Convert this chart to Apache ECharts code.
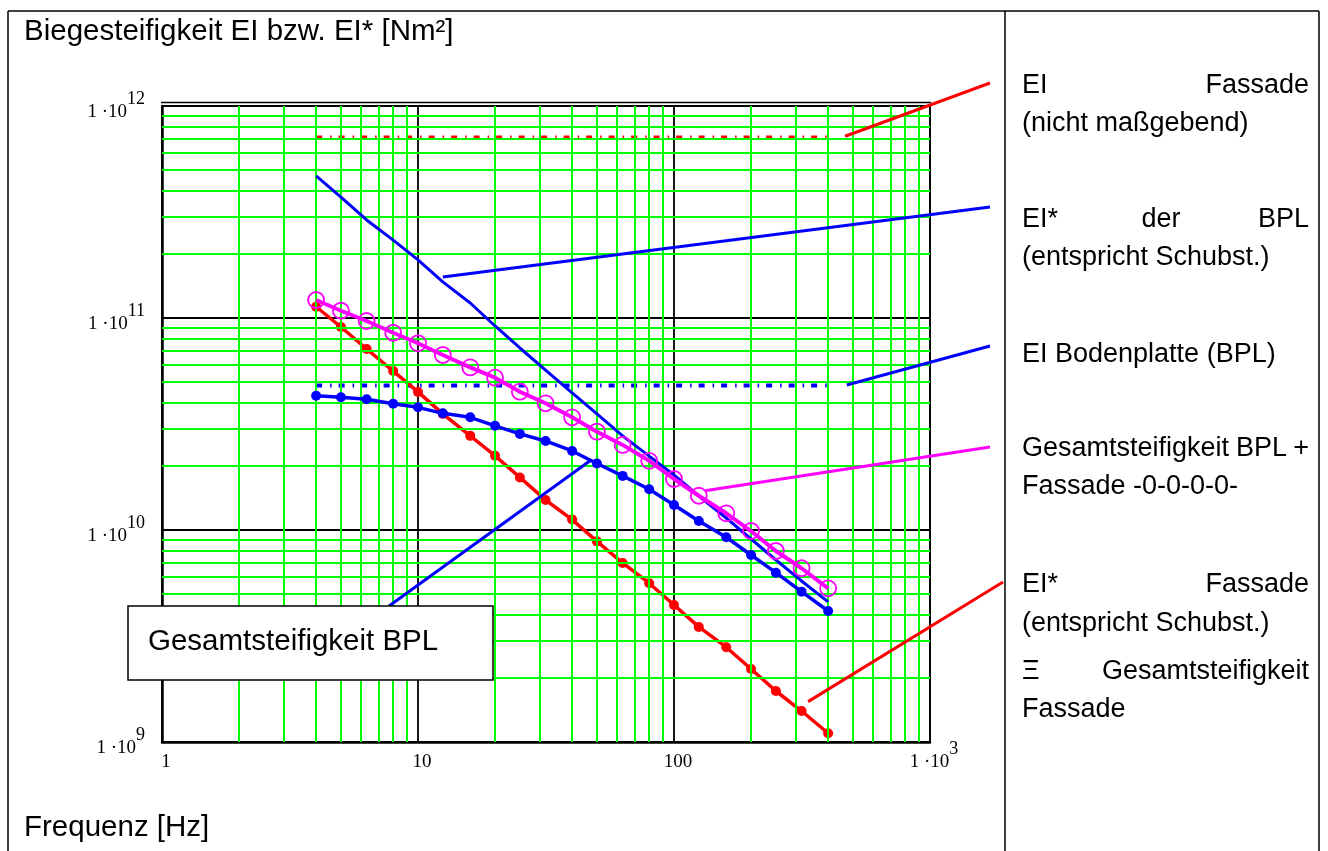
<!DOCTYPE html>
<html>
<head>
<meta charset="utf-8">
<script src="https://cdn.jsdelivr.net/npm/echarts@6/dist/echarts.min.js"></script>
<style>
  html, body { margin: 0; padding: 0; background: #fff; }
  #chart { width: 1328px; height: 851px; }
</style>
</head>
<body>
<div id="chart"></div>
<script>
// Third-octave band centre frequencies [Hz]
const FREQ = [4, 5, 6.3, 8, 10, 12.5, 16, 20, 25, 31.5, 40, 50, 63, 80, 100, 125, 160, 200, 250, 315, 400];

// EI* Fassade (entspricht Schubsteifigkeit) = Gesamtsteifigkeit Fassade [Nm²]
const EI_STAR_FASSADE = [1.13e11, 9.07e10, 7.14e10, 5.62e10, 4.48e10, 3.53e10, 2.78e10, 2.24e10, 1.77e10, 1.385e10,
  1.12e10, 8.84e9, 6.99e9, 5.61e9, 4.43e9, 3.49e9, 2.80e9, 2.21e9, 1.74e9, 1.40e9, 1.10e9];

// Gesamtsteifigkeit Bodenplatte [Nm²]
const GESAMT_BPL = [4.30e10, 4.23e10, 4.14e10, 3.94e10, 3.79e10, 3.55e10, 3.40e10, 3.10e10, 2.84e10, 2.63e10,
  2.36e10, 2.06e10, 1.80e10, 1.556e10, 1.312e10, 1.103e10, 9.24e9, 7.62e9, 6.29e9, 5.12e9, 4.15e9];

// Gesamtsteifigkeit BPL + Fassade [Nm²]
const GESAMT_BPL_FASSADE = [1.216e11, 1.082e11, 9.68e10, 8.52e10, 7.60e10, 6.69e10, 5.85e10, 5.23e10, 4.49e10, 3.96e10,
  3.40e10, 2.91e10, 2.52e10, 2.12e10, 1.74e10, 1.451e10, 1.199e10, 9.89e9, 7.96e9, 6.60e9, 5.31e9];

// EI* der Bodenplatte (entspricht Schubsteifigkeit) [Nm²]
const EI_STAR_BPL = [4.68e11, 3.72e11, 2.90e11, 2.33e11, 1.88e11, 1.48e11, 1.177e11, 9.17e10, 7.22e10, 5.68e10,
  4.43e10, 3.53e10, 2.78e10, 2.23e10, 1.82e10, 1.447e10, 1.139e10, 9.07e9, 7.22e9, 5.75e9, 4.58e9];

// Frequency-independent bending stiffnesses [Nm²]
const EI_FASSADE = 7.1e11;
const EI_BPL = 4.8e10;
const CONST_RANGE = [4, 400];

// Axis ranges and decade ticks
const X_RANGE = [1, 1000];
const Y_RANGE = [1e9, 1e12];
const X_DECADES = [1, 10, 100];
const Y_DECADES = [1e9, 1e10, 1e11];
const MANTISSAS = [2, 3, 4, 5, 6, 7, 8, 9];

// Leader-line anchors on the chart side, in data units [f, EI]
const LEADER_ANCHORS = {
  fassadeEI:   [466, 7.2e11],
  bplStar:     [12.5, 1.56e11],
  bplEI:       [473, 4.83e10],
  gesamt:      [132, 1.53e10],
  fassadeStar: [334, 1.55e9],
  gesamtBPL:   [47, 2.12e10]
};

const pair = (xs, ys) => xs.map((x, i) => [x, ys[i]]);
const minorX = X_DECADES.flatMap(d => MANTISSAS.map(m => m * d));
const minorY = Y_DECADES.flatMap(d => MANTISSAS.map(m => m * d));

const RED = '#ff0000', BLUE = '#0000ff', MAGENTA = '#ff00ff', GREEN = '#00ff00';
const SERIF = '"Liberation Serif", "DejaVu Serif", serif';
const SANS = '"Liberation Sans", Arial, sans-serif';

// "1 ·10" with a raised exponent: the tall base token sets the line box,
// the exponent hangs from its top
const supRich = {
  b: { fontFamily: SERIF, fontSize: 19, color: '#000', lineHeight: 32, verticalAlign: 'bottom' },
  s: { fontFamily: SERIF, fontSize: 18, color: '#000', lineHeight: 8, verticalAlign: 'top' }
};
const powLabel = e => '{b|1 ·10}{s|' + e + '}';

const GRID = { left: 162, top: 106, width: 768, height: 636 };

const chart = echarts.init(document.getElementById('chart'), null, { renderer: 'canvas' });

chart.setOption({
  animation: false,
  backgroundColor: '#fff',
  grid: Object.assign({ show: true, borderColor: '#000', borderWidth: 1.5, backgroundColor: 'transparent', containLabel: false }, GRID),
  xAxis: {
    type: 'log', logBase: 10, min: X_RANGE[0], max: X_RANGE[1],
    axisLine: { show: true, onZero: false, lineStyle: { color: '#000', width: 2.5 } },
    axisTick: { show: false },
    splitLine: { show: true, lineStyle: { color: '#000', width: 1.8 } },
    axisLabel: {
      margin: -2,
      padding: [0, 0, 0, 8],
      formatter: v => {
        const e = Math.round(Math.log10(v));
        return e >= 3 ? powLabel(e) : '{b|' + Math.round(v) + '}';
      },
      rich: supRich
    }
  },
  yAxis: {
    type: 'log', logBase: 10, min: Y_RANGE[0], max: Y_RANGE[1],
    axisLine: { show: true, onZero: false, lineStyle: { color: '#000', width: 2.5 } },
    axisTick: { show: false },
    splitLine: { show: true, lineStyle: { color: '#000', width: 1.8 } },
    axisLabel: {
      margin: 17,
      formatter: v => powLabel(Math.round(Math.log10(v))),
      rich: supRich
    }
  },
  series: [
    {
      // green minor grid at 2..9 of every decade
      type: 'line', data: [], silent: true, z: 1,
      markLine: {
        silent: true, symbol: ['none', 'none'], label: { show: false },
        lineStyle: { color: GREEN, width: 2, type: 'solid' },
        emphasis: { disabled: true },
        data: minorX.map(v => ({ xAxis: v })).concat(minorY.map(v => ({ yAxis: v })))
      }
    },
    {
      name: 'EI Fassade', type: 'line', z: 3, showSymbol: false,
      data: CONST_RANGE.map(f => [f, EI_FASSADE]),
      lineStyle: { color: RED, width: 4, type: [6, 8, 1.5, 7] }
    },
    {
      name: 'EI Bodenplatte', type: 'line', z: 3, showSymbol: false,
      data: CONST_RANGE.map(f => [f, EI_BPL]),
      lineStyle: { color: BLUE, width: 4, type: [6, 8, 1.5, 7] }
    },
    {
      name: 'EI* Fassade', type: 'line', z: 4,
      data: pair(FREQ, EI_STAR_FASSADE),
      symbol: 'circle', symbolSize: 10,
      itemStyle: { color: RED },
      lineStyle: { color: RED, width: 3.5 }
    },
    {
      name: 'EI* der BPL', type: 'line', z: 5, showSymbol: false,
      data: pair(FREQ, EI_STAR_BPL),
      lineStyle: { color: BLUE, width: 3 }
    },
    {
      name: 'Gesamtsteifigkeit BPL', type: 'line', z: 5,
      data: pair(FREQ, GESAMT_BPL),
      symbol: 'circle', symbolSize: 10,
      itemStyle: { color: BLUE },
      lineStyle: { color: BLUE, width: 3.5 }
    },
    {
      name: 'Gesamtsteifigkeit BPL + Fassade', type: 'line', z: 6,
      data: pair(FREQ, GESAMT_BPL_FASSADE),
      symbol: 'circle', symbolSize: 16,
      itemStyle: { color: 'rgba(0,0,0,0)', borderColor: MAGENTA, borderWidth: 1.8 },
      lineStyle: { color: MAGENTA, width: 4 }
    }
  ]
});

// Frame, legend panel texts, callout box and leader lines
const px = key => chart.convertToPixel({ gridIndex: 0 }, LEADER_ANCHORS[key]);
const leader = (key, x2, y2, color) => {
  const p = px(key);
  return { type: 'line', z: 20, silent: true,
    shape: { x1: p[0], y1: p[1], x2: x2, y2: y2 },
    style: { stroke: color, lineWidth: 3 } };
};
const hline = (x1, x2, y) => ({ type: 'line', z: 20, silent: true, shape: { x1, y1: y, x2, y2: y }, style: { stroke: '#000', lineWidth: 1.5 } });
const vline = (x, y1, y2) => ({ type: 'line', z: 20, silent: true, shape: { x1: x, y1, x2: x, y2 }, style: { stroke: '#000', lineWidth: 1.5 } });
const txt = (s, x, y, align, size) => ({
  type: 'text', z: 30, silent: true, x, y,
  style: { text: s, fill: '#000', font: (size || 27) + 'px ' + SANS, textAlign: align || 'left', textVerticalAlign: 'middle' }
});

const PL = 1022, PR = 1309;
chart.setOption({
  graphic: [
    // outer frame and panel divider
    hline(8, 1319, 11), vline(8, 11, 851), vline(1319, 11, 851), vline(1005, 11, 851),
    // double top edge of the diagram
    hline(161, 931, 102.5),

    txt('Biegesteifigkeit EI bzw. EI* [Nm²]', 24, 32, 'left', 29.5),
    txt('Frequenz [Hz]', 24, 828, 'left', 29.5),

    // legend panel
    txt('EI', PL, 86), txt('Fassade', PR, 86, 'right'),
    txt('(nicht maßgebend)', PL, 124),
    txt('EI*', PL, 220), txt('der', 1161, 220, 'center'), txt('BPL', PR, 220, 'right'),
    txt('(entspricht Schubst.)', PL, 258),
    txt('EI Bodenplatte (BPL)', PL, 355),
    txt('Gesamtsteifigkeit', PL, 449), txt('BPL', 1236, 449), txt('+', PR, 449, 'right'),
    txt('Fassade -0-0-0-0-', PL, 487),
    txt('EI*', PL, 585), txt('Fassade', PR, 585, 'right'),
    txt('(entspricht Schubst.)', PL, 624),
    txt('Ξ', PL, 672), txt('Gesamtsteifigkeit', PR, 672, 'right'),
    txt('Fassade', PL, 710),

    // leader lines
    leader('fassadeEI', 990, 83, RED),
    leader('bplStar', 990, 207, BLUE),
    leader('bplEI', 990, 346, BLUE),
    leader('gesamt', 990, 447, MAGENTA),
    leader('fassadeStar', 1003, 582, RED),
    leader('gesamtBPL', 389, 606, BLUE),

    // callout box
    { type: 'rect', z: 25, silent: true, shape: { x: 128, y: 606, width: 365, height: 74 },
      style: { fill: '#fff', stroke: '#000', lineWidth: 1.5 } },
    txt('Gesamtsteifigkeit BPL', 148, 642, 'left', 29.5)
  ]
});
</script>
</body>
</html>
